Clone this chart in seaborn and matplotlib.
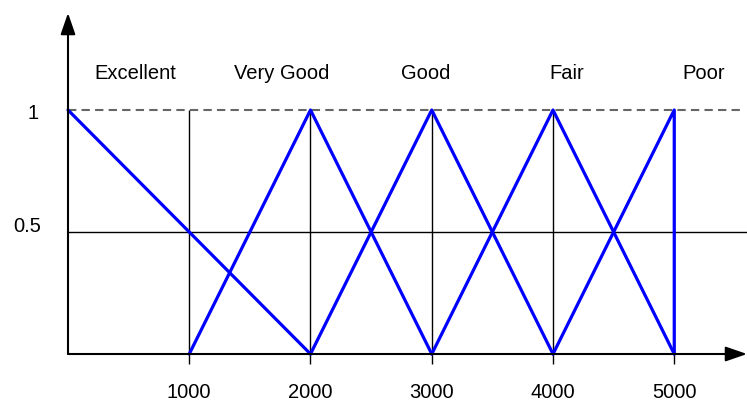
import numpy as np
import pandas as pd
import matplotlib
matplotlib.use("Agg")
import matplotlib.pyplot as plt
import seaborn as sns

# membership function shapes (quality vs. value)
grades = ["Excellent", "Very Good", "Good", "Fair", "Poor"]
shape_x = [
    [0, 2000],
    [1000, 2000, 3000],
    [2000, 3000, 4000],
    [3000, 4000, 5000],
    [4000, 5000, 5000],
]
shape_y = [
    [1, 0],
    [0, 1, 0],
    [0, 1, 0],
    [0, 1, 0],
    [0, 1, 0],
]
label_x = [559, 1765, 2953, 4115, 5241]
x_ticks = [1000, 2000, 3000, 4000, 5000]
x_tick_labels = ["1000", "2000", "3000", "4000", "5000"]
y_ticks = [1, 0.5]
y_tick_labels = ["1", "0.5"]

rows = []
for g, xs, ys in zip(grades, shape_x, shape_y):
    for i, (xv, yv) in enumerate(zip(xs, ys)):
        rows.append({"grade": g, "order": i, "x": xv, "y": yv})
df = pd.DataFrame(rows)

sns.set_style("white")
plt.rcParams["font.family"] = ["Liberation Sans", "DejaVu Sans"]
plt.rcParams["text.color"] = "black"

fig = plt.figure(figsize=(7.47, 4.03), dpi=100)
ax = fig.add_axes([0, 0, 1, 1])
ax.set_xlim(-560.8, 5600)
ax.set_ylim(-0.2008, 1.4508)
ax.axis("off")

# reference lines
ax.plot([0, 5585], [1, 1], color="#666666", lw=1.5, dashes=(4, 2.5))
ax.plot([0, 5600], [0.5, 0.5], color="black", lw=1)
ax.vlines(x_ticks, -0.041, 1, color="black", lw=1)

# membership triangles
sns.lineplot(data=df, x="x", y="y", units="grade", estimator=None, sort=False,
             color="blue", lw=2.3, ax=ax, legend=False)
ax.set_xlabel("")
ax.set_ylabel("")

# axes with arrow heads
arrow = dict(arrowstyle="-|>,head_length=1.3,head_width=0.45", color="black",
             lw=1.5, shrinkA=0, shrinkB=0, mutation_scale=10)
ax.annotate("", xy=(0, 1.3975), xytext=(0, 0), arrowprops=arrow)
ax.annotate("", xy=(5600, 0), xytext=(0, 0), arrowprops=arrow, annotation_clip=False)

for xv, lab in zip(x_ticks, x_tick_labels):
    ax.text(xv, -0.181, lab, ha="center", va="baseline", fontsize=14.5, color="black")
ax.text(-239, 0.963, y_tick_labels[0], ha="right", va="baseline", fontsize=14.5, color="black")
ax.text(-223, 0.5, y_tick_labels[1], ha="right", va="baseline", fontsize=14.5, color="black")

for g, lx in zip(grades, label_x):
    ax.text(lx, 1.127, g, ha="center", va="baseline", fontsize=14.5, color="black")

fig.savefig("out.png", dpi=100)
